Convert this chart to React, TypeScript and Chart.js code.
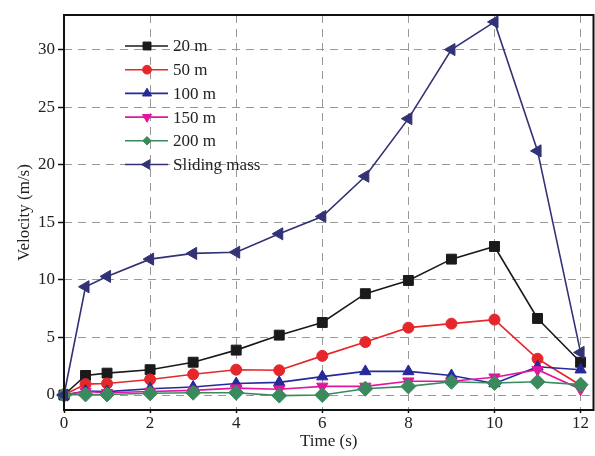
import React, { useEffect, useRef } from "react";
import { Chart, registerables } from "chart.js";
Chart.register(...registerables);

const times = [0, 0.5, 1, 2, 3, 4, 5, 6, 7, 8, 9, 10, 11, 12];
const v20 = [0, 1.7, 1.9, 2.2, 2.85, 3.9, 5.2, 6.3, 8.8, 9.95, 11.8, 12.9, 6.65, 2.85];
const v50 = [0, 0.95, 1.0, 1.35, 1.8, 2.2, 2.15, 3.4, 4.6, 5.85, 6.2, 6.55, 3.15, 0.85];
const v100 = [0, 0.35, 0.3, 0.55, 0.7, 1.0, 1.1, 1.6, 2.05, 2.05, 1.7, 1.0, 2.45, 2.2];
const v150 = [0, 0.3, 0.2, 0.3, 0.4, 0.6, 0.5, 0.75, 0.75, 1.2, 1.2, 1.55, 2.2, 0.5];
const v200 = [0, 0.05, 0.05, 0.15, 0.2, 0.2, -0.05, 0.0, 0.55, 0.75, 1.15, 1.05, 1.15, 0.9];
const vSliding = [0, 9.4, 10.3, 11.8, 12.3, 12.4, 14.0, 15.5, 19.0, 24.0, 30.0, 32.4, 21.2, 3.7];

const seriesNames = ["20 m", "50 m", "100 m", "150 m", "200 m", "Sliding mass"];
const seriesValues = [v20, v50, v100, v150, v200, vSliding];
const seriesColors = ["#1a1a1a", "#e5262b", "#25299a", "#e0169e", "#3a8a5e", "#323274"];
const seriesStyles = ["rect", "circle", "triangle", "triangle", "rectRot", "triangle"];
const seriesRotations = [0, 0, 0, 180, 0, -90];
const seriesRadii = [7, 5.5, 6.5, 6.5, 7.5, 7];

const xTicks = [0, 2, 4, 6, 8, 10, 12];
const yTicks = [0, 5, 10, 15, 20, 25, 30];

const FONT = "'Liberation Serif', 'Times New Roman', serif";
const CANVAS_W = 602;

function drawMarker(ctx: CanvasRenderingContext2D, style: string, rotation: number, r: number, x: number, y: number, color: string) {
  ctx.save();
  ctx.fillStyle = color;
  ctx.strokeStyle = color;
  ctx.lineWidth = 1;
  ctx.translate(x, y);
  ctx.rotate((rotation * Math.PI) / 180);
  ctx.beginPath();
  if (style === "rect") {
    const s = r * Math.SQRT1_2;
    ctx.rect(-s, -s, 2 * s, 2 * s);
  } else if (style === "circle") {
    ctx.arc(0, 0, r, 0, Math.PI * 2);
  } else if (style === "triangle") {
    for (let k = 0; k < 3; k++) {
      const a = -Math.PI / 2 + (k * 2 * Math.PI) / 3;
      const px = Math.cos(a) * r;
      const py = Math.sin(a) * r;
      if (k === 0) ctx.moveTo(px, py);
      else ctx.lineTo(px, py);
    }
    ctx.closePath();
  } else if (style === "rectRot") {
    const s = r * Math.SQRT1_2;
    ctx.moveTo(0, -s);
    ctx.lineTo(s, 0);
    ctx.lineTo(0, s);
    ctx.lineTo(-s, 0);
    ctx.closePath();
  }
  ctx.fill();
  ctx.stroke();
  ctx.restore();
}

const framePlugin = {
  id: "frameAndLegend",
  afterDatasetsDraw(chart: any) {
    const { ctx, chartArea } = chart;
    const { left, top, right, bottom } = chartArea;
    ctx.save();
    ctx.strokeStyle = "#111";
    ctx.lineWidth = 2;
    ctx.strokeRect(left, top, right - left, bottom - top);
    const lx0 = left + 61;
    const lx1 = left + 104;
    const mx = left + 83;
    const tx = left + 109;
    chart.data.datasets.forEach((ds: any, i: number) => {
      const y = top + 31 + i * 23.7;
      ctx.strokeStyle = ds.borderColor;
      ctx.lineWidth = 1.6;
      ctx.beginPath();
      ctx.moveTo(lx0, y);
      ctx.lineTo(lx1, y);
      ctx.stroke();
      drawMarker(ctx, ds.pointStyle, ds.pointRotation, ds.pointRadius * 0.8, mx, y, ds.borderColor);
      ctx.fillStyle = "#222";
      ctx.font = `17px ${FONT}`;
      ctx.textBaseline = "middle";
      ctx.textAlign = "left";
      ctx.fillText(ds.label, tx, y + 1);
    });
    ctx.restore();
  },
};

export default function App() {
  const ref = useRef<HTMLCanvasElement | null>(null);
  useEffect(() => {
    document.body.style.margin = "0";
    document.body.style.overflow = "hidden";
    const canvas = ref.current!;
    const datasets = seriesNames.map((name, i) => ({
      label: name,
      data: times.map((t, j) => ({ x: t, y: seriesValues[i][j] })),
      borderColor: seriesColors[i],
      backgroundColor: seriesColors[i],
      pointBackgroundColor: seriesColors[i],
      pointBorderColor: seriesColors[i],
      pointStyle: seriesStyles[i],
      pointRotation: seriesRotations[i],
      pointRadius: seriesRadii[i],
      pointBorderWidth: 1,
      borderWidth: 1.6,
      tension: 0,
      order: 5 - i,
      clip: 8,
    }));
    const chart = new Chart(canvas, {
      type: "line",
      data: { datasets },
      plugins: [framePlugin],
      options: {
        animation: false,
        responsive: false,
        layout: { padding: { top: 15, right: 0, left: 0, bottom: 0 } },
        plugins: { legend: { display: false }, tooltip: { enabled: false } },
        scales: {
          x: {
            type: "linear",
            min: 0,
            max: 12.3,
            afterBuildTicks: (s: any) => {
              s.ticks = xTicks.map((v) => ({ value: v }));
            },
            afterFit: (s: any) => {
              s.height = 46;
            },
            grid: {
              color: "#999999",
              lineWidth: 1,
              drawTicks: true,
              tickLength: 3,
              tickColor: "#111",
              tickWidth: 1.5,
              tickBorderDash: [],
            },
            border: { display: false, dash: [8, 6] },
            ticks: {
              color: "#222",
              font: { family: FONT, size: 17 },
              padding: 0,
              maxRotation: 0,
            },
            title: {
              display: true,
              text: "Time (s)",
              color: "#222",
              font: { family: FONT, size: 17 },
              padding: { top: 0, bottom: 4 },
            },
          },
          y: {
            type: "linear",
            min: -1.3,
            max: 33,
            afterBuildTicks: (s: any) => {
              s.ticks = yTicks.map((v) => ({ value: v }));
            },
            afterFit: (s: any) => {
              s.width = 64;
            },
            grid: {
              color: "#999999",
              lineWidth: 1,
              drawTicks: true,
              tickLength: 6,
              tickColor: "#111",
              tickWidth: 1.5,
              tickBorderDash: [],
            },
            border: { display: false, dash: [8, 6] },
            ticks: {
              color: "#222",
              font: { family: FONT, size: 17 },
              padding: 3,
            },
            title: {
              display: true,
              text: "Velocity (m/s)",
              color: "#222",
              font: { family: FONT, size: 17 },
              padding: { top: 14, bottom: 0 },
            },
          },
        },
      } as any,
    });
    return () => chart.destroy();
  }, []);
  return (
    <div style={{ width: 595, height: 456, background: "#fff", overflow: "hidden" }}>
      <canvas ref={ref} width={CANVAS_W} height={456} style={{ width: CANVAS_W, height: 456, display: "block" }} />
    </div>
  );
}
